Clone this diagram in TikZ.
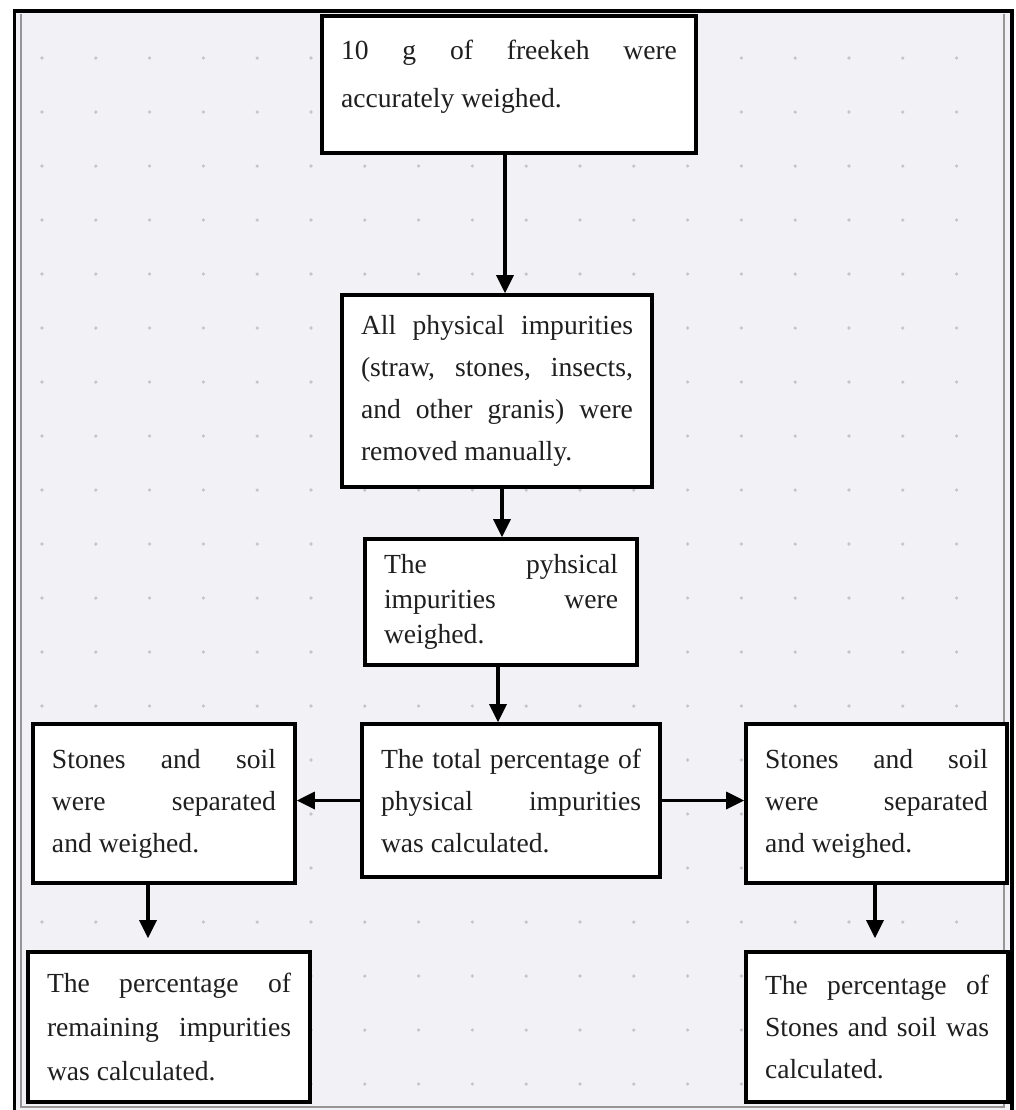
\documentclass[tikz,border=0pt]{standalone}
\usepackage{fontspec}
\setmainfont{Liberation Serif}
\usepackage{xcolor}
\usepackage{tikz}
\usetikzlibrary{arrows.meta}
\definecolor{pagebg}{RGB}{242,242,246}
\definecolor{dotgray}{RGB}{196,196,204}
\definecolor{rulegray}{RGB}{150,150,150}
\hyphenpenalty=10000
\tolerance=10000
\hbadness=10000

\begin{document}
\begin{tikzpicture}[
  x=0.5pt, y=-0.5pt,
  stepbox/.style={draw, line width=1.8pt, fill=white, align=justify,
                  inner xsep=9.5pt, inner ysep=0pt, text=black!88,
                  font=\fontsize{13.8}{21}\selectfont},
  arr/.style={line width=1.7pt, -{Triangle[length=9pt, width=8.5pt]}}
]
\useasboundingbox (0,0) rectangle (1016,1110);
\fill[pagebg] (16,12) rectangle (1011,1110);
\foreach \i in {0,...,17}
  \foreach \j in {0,...,19}
    \fill[dotgray] ({42+53.8*\i},{58+54*\j}) circle (0.9pt);
\draw[rulegray, line width=0.6pt] (21,14) -- (21,1107) -- (1004,1107) -- (1004,14);
\draw[line width=1.6pt] (14.5,1110) -- (14.5,11) -- (1012,11) -- (1012,1110);

\node[stepbox, minimum width=187pt, minimum height=68.5pt, text width=168pt,
      font=\fontsize{13.8}{24}\selectfont] (weigh) at (509,84.5)
  {10 g of freekeh were\linebreak accurately weighed.\par\vspace{8pt}};
\node[stepbox, minimum width=155pt, minimum height=96pt, text width=136pt] (remove) at (497,391)
  {All physical impurities\linebreak (straw, stones, insects,\linebreak and other granis) were\linebreak removed manually.};
\node[stepbox, minimum width=136pt, minimum height=63pt, text width=117pt,
      font=\fontsize{13.8}{17.5}\selectfont] (impw) at (501,602)
  {The pyhsical\linebreak impurities were\linebreak weighed.};
\node[stepbox, minimum width=149pt, minimum height=76.5pt, text width=130pt] (total) at (511,800.5)
  {The total percentage of\linebreak physical impurities\linebreak was calculated.};
\node[stepbox, minimum width=131pt, minimum height=79.5pt, text width=112pt] (sepl) at (164,803.5)
  {Stones and soil\linebreak were separated\linebreak and weighed.};
\node[stepbox, minimum width=130.5pt, minimum height=79.5pt, text width=111.5pt] (sepr) at (876.5,803.5)
  {Stones and soil\linebreak were separated\linebreak and weighed.};
\node[stepbox, minimum width=141pt, minimum height=75pt, text width=122pt,
      font=\fontsize{13.8}{22}\selectfont] (pctl) at (169,1027)
  {The percentage of\linebreak remaining impurities\linebreak was calculated.};
\node[stepbox, minimum width=131pt, minimum height=75pt, text width=112pt] (pctr) at (877,1027)
  {The percentage of\linebreak Stones and soil was\linebreak calculated.};

\draw[arr] ([xshift=-2pt]weigh.south) -- ([xshift=4pt]remove.north);
\draw[arr] ([xshift=2.5pt]remove.south) -- ([xshift=0.5pt]impw.north);
\draw[arr] ([xshift=-1.5pt]impw.south) -- ([xshift=-6.5pt]total.north);
\draw[arr] (total.west) -- (total.west -| sepl.east);
\draw[arr] (total.east) -- (total.east -| sepr.west);
\draw[arr, shorten >=6pt] ([xshift=-8pt]sepl.south) -- ([xshift=-10.5pt]pctl.north);
\draw[arr, shorten >=6pt] ([xshift=-0.75pt]sepr.south) -- ([xshift=-1pt]pctr.north);
\end{tikzpicture}
\end{document}
